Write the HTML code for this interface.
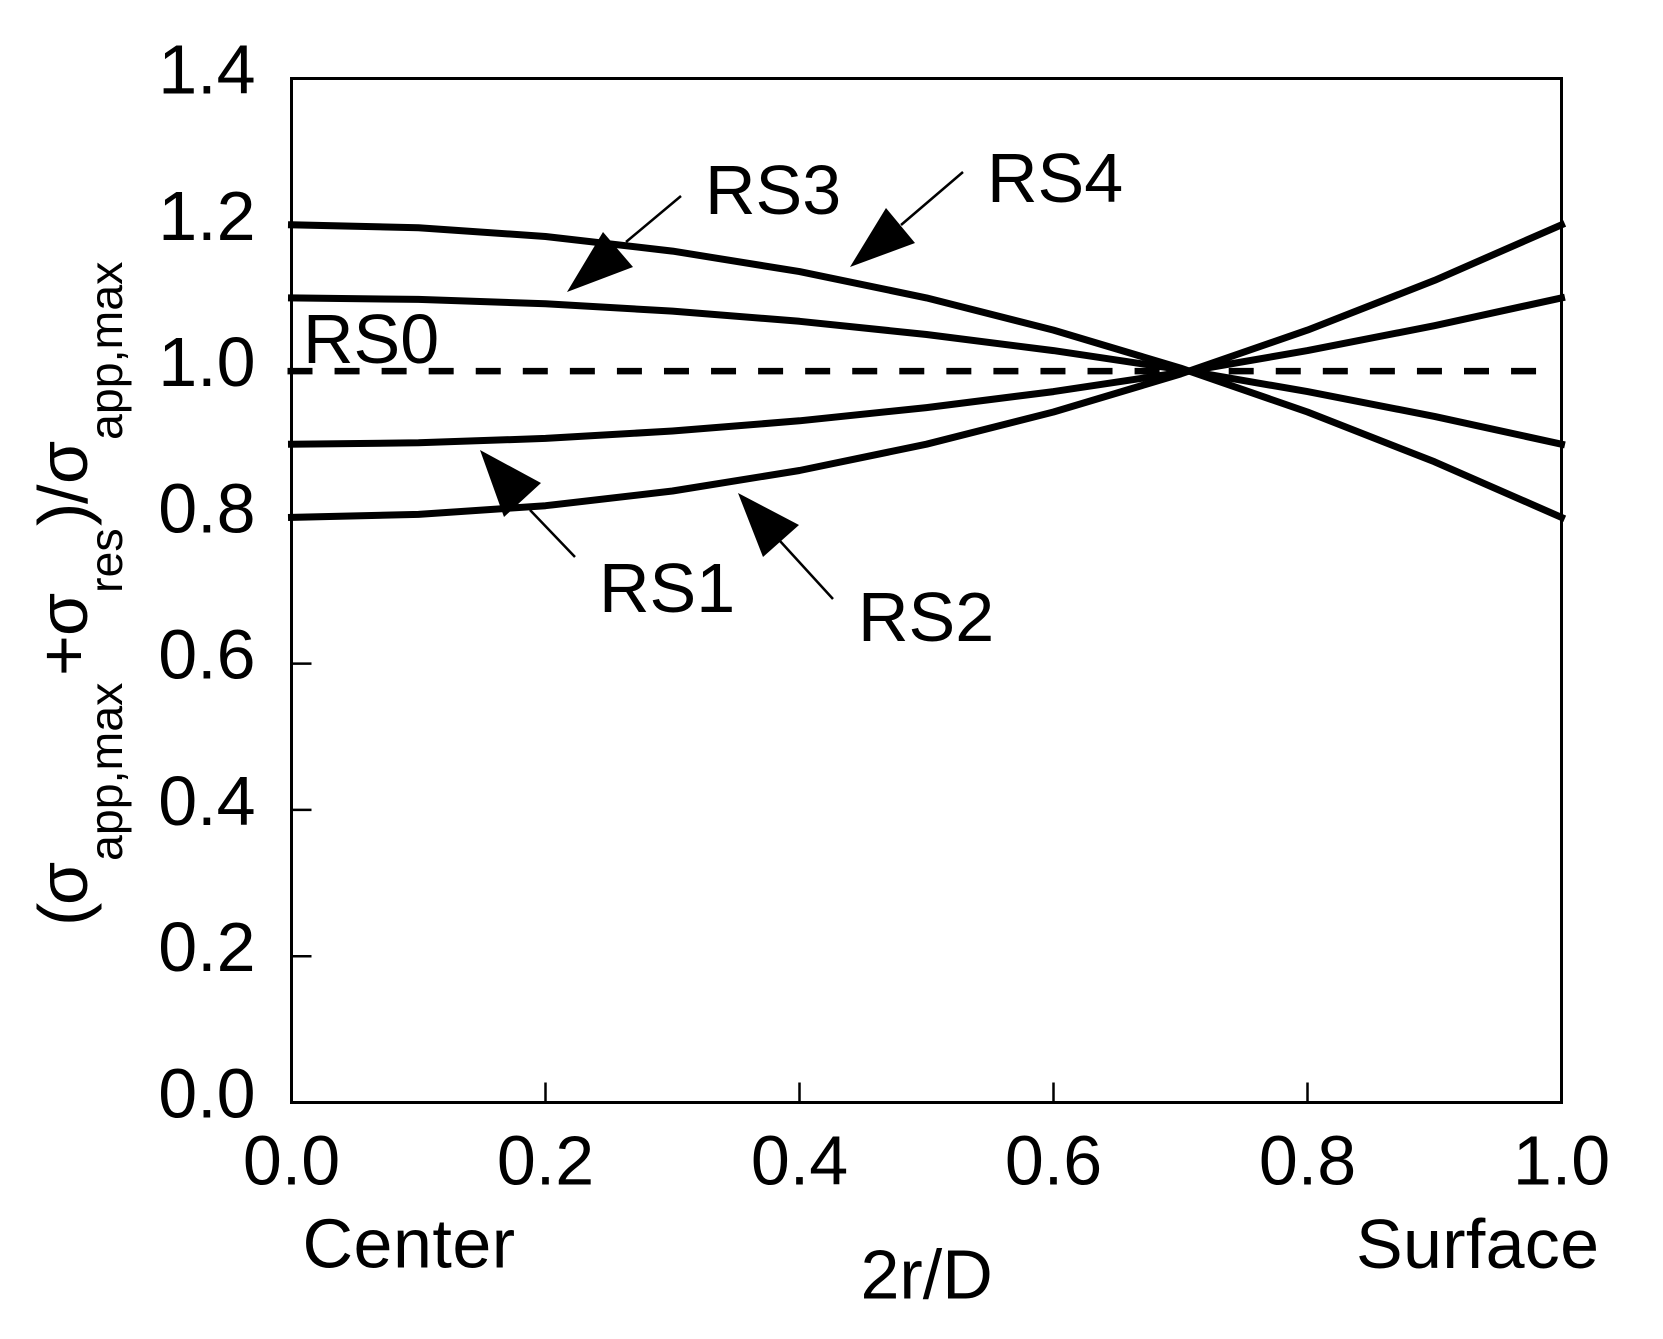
<!DOCTYPE html>
<html lang="en">
<head>
<meta charset="utf-8">
<title>Stress distribution chart</title>
<style>
html,body{margin:0;padding:0;background:#fff;}
svg{display:block;}
text{font-family:"Liberation Sans",Arial,sans-serif;fill:#000;}
</style>
</head>
<body>
<svg id="chart" xmlns="http://www.w3.org/2000/svg" width="1663" height="1339" viewBox="0 0 1663 1339">
  <rect x="0" y="0" width="1663" height="1339" fill="#fff"/>
  <g id="series-layer"></g>
  <rect x="291.5" y="78.5" width="1270" height="1024" fill="none" stroke="#000" stroke-width="3"/>
  <g id="tick-layer"></g>

  <g transform="translate(87,0) rotate(-90)" font-size="70">
    <text x="-926" y="0">(</text>
    <text x="-905" y="0">σ</text>
    <text x="-861" y="35" font-size="46.5">app,max</text>
    <text x="-676" y="0">+</text>
    <text x="-636" y="0">σ</text>
    <text x="-593" y="35" font-size="46.5">res</text>
    <text x="-526" y="0">)</text>
    <text x="-504" y="0">/</text>
    <text x="-484" y="0">σ</text>
    <text x="-440" y="35" font-size="46.5">app,max</text>
  </g>

  <text x="860.5" y="1298.5" font-size="70">2r/D</text>
  <text x="302.5" y="1267.5" font-size="70" letter-spacing="0.5">Center</text>
  <text x="1356" y="1268" font-size="70" letter-spacing="0.3">Surface</text>

  <text x="303" y="363" font-size="70">RS0</text>
  <text x="599" y="612" font-size="70">RS1</text>
  <text x="858" y="641" font-size="70">RS2</text>
  <text x="705" y="214" font-size="70">RS3</text>
  <text x="987" y="202" font-size="70">RS4</text>

  <g>
    <polygon points="480,450 541,483 504,517" fill="#000"/>
    <line x1="530" y1="510" x2="575" y2="557" stroke="#000" stroke-width="2.5"/>
  </g>
  <g>
    <polygon points="738,493 799,525 763,557" fill="#000"/>
    <line x1="780" y1="541" x2="833" y2="599" stroke="#000" stroke-width="2.5"/>
  </g>
  <g>
    <polygon points="567,292 633,267 603,232" fill="#000"/>
    <line x1="626" y1="242" x2="681" y2="196" stroke="#000" stroke-width="2.5"/>
  </g>
  <g>
    <polygon points="850,267 915,243 886,208" fill="#000"/>
    <line x1="901" y1="225" x2="963" y2="172" stroke="#000" stroke-width="2.5"/>
  </g>
</svg>
<script>
const radiusValues = [0, 0.1, 0.2, 0.3, 0.4, 0.5, 0.6, 0.7, 0.8, 0.9, 1.0];
const rs1Values = [0.900, 0.902, 0.908, 0.918, 0.932, 0.950, 0.972, 0.998, 1.028, 1.062, 1.100];
const rs2Values = [0.800, 0.804, 0.816, 0.836, 0.864, 0.900, 0.944, 0.996, 1.056, 1.124, 1.200];
const rs3Values = [1.100, 1.098, 1.092, 1.082, 1.068, 1.050, 1.028, 1.002, 0.972, 0.938, 0.900];
const rs4Values = [1.200, 1.196, 1.184, 1.164, 1.136, 1.100, 1.056, 1.004, 0.944, 0.876, 0.800];
const rs0Radius = [0, 0.98];
const rs0Values = [1.0, 1.0];
const xTickValues = [0.0, 0.2, 0.4, 0.6, 0.8, 1.0];
const xTickLabels = ['0.0', '0.2', '0.4', '0.6', '0.8', '1.0'];
const yTickValues = [0.0, 0.2, 0.4, 0.6, 0.8, 1.0, 1.2, 1.4];
const yTickLabels = ['0.0', '0.2', '0.4', '0.6', '0.8', '1.0', '1.2', '1.4'];

const NS = 'http://www.w3.org/2000/svg';
const plotLeft = 291.5, plotRight = 1561.5, plotTop = 78.5, plotBottom = 1102.5;
const xMin = 0, xMax = 1, yMin = 0, yMax = 1.4;
function xScale(v) { return plotLeft + (v - xMin) / (xMax - xMin) * (plotRight - plotLeft); }
function yScale(v) { return plotBottom - (v - yMin) / (yMax - yMin) * (plotBottom - plotTop); }

const seriesLayer = document.getElementById('series-layer');
const tickLayer = document.getElementById('tick-layer');

function drawCurve(name, xs, ys) {
  const line = document.createElementNS(NS, 'polyline');
  
  
  line.setAttribute('points', xs.map((x, i) => xScale(x).toFixed(1) + ',' + yScale(ys[i]).toFixed(1)).join(' '));
  line.setAttribute('fill', 'none');
  line.setAttribute('stroke', '#000');
  line.setAttribute('stroke-width', '7');
  line.setAttribute('stroke-linecap', 'square');
  line.setAttribute('stroke-linejoin', 'round');
  seriesLayer.appendChild(line);
}

const rs0Line = document.createElementNS(NS, 'line');


rs0Line.setAttribute('x1', xScale(rs0Radius[0]) - 4);
rs0Line.setAttribute('y1', yScale(rs0Values[0]));
rs0Line.setAttribute('x2', xScale(rs0Radius[1]));
rs0Line.setAttribute('y2', yScale(rs0Values[1]));
rs0Line.setAttribute('stroke', '#000');
rs0Line.setAttribute('stroke-width', '6.5');
rs0Line.setAttribute('stroke-dasharray', '25 22.06');
seriesLayer.appendChild(rs0Line);

drawCurve('rs1-curve', radiusValues, rs1Values);
drawCurve('rs2-curve', radiusValues, rs2Values);
drawCurve('rs3-curve', radiusValues, rs3Values);
drawCurve('rs4-curve', radiusValues, rs4Values);

xTickValues.forEach(function (v, i) {
  if (v > xMin && v < xMax) {
    const tick = document.createElementNS(NS, 'line');
    
    
    tick.setAttribute('x1', xScale(v));
    tick.setAttribute('x2', xScale(v));
    tick.setAttribute('y1', plotBottom);
    tick.setAttribute('y2', plotBottom - 20);
    tick.setAttribute('stroke', '#000');
    tick.setAttribute('stroke-width', '2.5');
    tickLayer.appendChild(tick);
  }
  const label = document.createElementNS(NS, 'text');
  
  
  label.setAttribute('x', xScale(v));
  label.setAttribute('y', plotBottom + 82);
  label.setAttribute('font-size', '70');
  label.setAttribute('text-anchor', 'middle');
  label.textContent = xTickLabels[i];
  tickLayer.appendChild(label);
});

yTickValues.forEach(function (v, i) {
  if (v > yMin && v < yMax) {
    const tick = document.createElementNS(NS, 'line');
    
    
    tick.setAttribute('x1', plotLeft);
    tick.setAttribute('x2', plotLeft + 20);
    tick.setAttribute('y1', yScale(v));
    tick.setAttribute('y2', yScale(v));
    tick.setAttribute('stroke', '#000');
    tick.setAttribute('stroke-width', '2.5');
    tickLayer.appendChild(tick);
  }
  const label = document.createElementNS(NS, 'text');
  
  
  label.setAttribute('x', plotLeft - 36);
  label.setAttribute('y', yScale(v) + 15);
  label.setAttribute('font-size', '70');
  label.setAttribute('text-anchor', 'end');
  label.textContent = yTickLabels[i];
  tickLayer.appendChild(label);
});
</script>
</body>
</html>
